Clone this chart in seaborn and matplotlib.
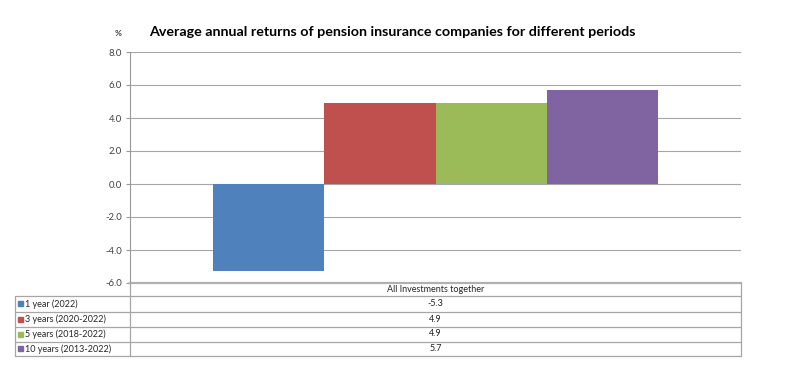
import matplotlib
matplotlib.use("Agg")
import matplotlib.pyplot as plt
import seaborn as sns
import pandas as pd
from matplotlib.lines import Line2D
from matplotlib.patches import Rectangle

# data
category = "All Investments together"
periods = ["1 year (2022)", "3 years (2020-2022)", "5 years (2018-2022)", "10 years (2013-2022)"]
returns = [-5.3, 4.9, 4.9, 5.7]
colors = ["#4F81BD", "#C0504D", "#9BBB59", "#8064A2"]
yticks = [-6.0, -4.0, -2.0, 0.0, 2.0, 4.0, 6.0, 8.0]

df = pd.DataFrame({"cat": [category] * len(periods), "period": periods, "value": returns})

sns.set_style("white")
plt.rcParams["font.family"] = ["Lato", "DejaVu Sans"]

W, H = 790, 390
fig = plt.figure(figsize=(W / 100, H / 100), dpi=100)

def fx(px):
    return px / W

def fy(py):
    return 1 - py / H

ax_l, ax_r, ax_t, ax_b = 130, 741, 52, 283
ax = fig.add_axes([fx(ax_l), fy(ax_b), fx(ax_r - ax_l), (ax_b - ax_t) / H])

sns.barplot(data=df, x="cat", y="value", hue="period", palette=colors,
            width=0.727, ax=ax, legend=False, saturation=1, edgecolor="none")

ax.set_ylim(-6, 8)
ax.set_yticks(yticks)
ax.set_yticklabels([f"{t:.1f}" for t in yticks], fontsize=6.8, color="#404040")
ax.tick_params(axis="y", length=3, width=0.8, color="#999999", pad=3, direction="out", left=True)
ax.set_xticks([])
ax.set_xlabel("")
ax.set_ylabel("")
ax.grid(axis="y", color="#a6a6a6", linewidth=0.8)
ax.set_axisbelow(True)
for s in ["top", "right"]:
    ax.spines[s].set_visible(False)
ax.spines["left"].set_color("#999999")
ax.spines["bottom"].set_color("#b0b0b0")
ax.spines["bottom"].set_linewidth(1.6)

# title and unit
fig.text(fx(392), fy(32), "Average annual returns of pension insurance companies for different periods",
         ha="center", va="center", fontsize=10.3, fontweight="bold", color="#000000")
fig.text(fx(118), fy(33), "%", ha="center", va="center", fontsize=6, fontweight="bold", color="#404040")

# data table below the chart
lc = "#a6a6a6"
def hline(x0, x1, y):
    fig.add_artist(Line2D([fx(x0), fx(x1)], [fy(y), fy(y)], color=lc, lw=0.9))

def vline(x, y0, y1):
    fig.add_artist(Line2D([fx(x), fx(x)], [fy(y0), fy(y1)], color=lc, lw=0.9))

tab_left = 15
row_edges = [296, 311.5, 326.5, 341.5, 356]
for y in row_edges:
    hline(tab_left, ax_r, y)
vline(tab_left, row_edges[0], row_edges[-1])
vline(ax_l, ax_b, row_edges[-1])
vline(ax_r, ax_b, row_edges[-1])

mid_x = (ax_l + ax_r) / 2
fig.text(fx(mid_x), fy((ax_b + row_edges[0]) / 2), category, ha="center", va="center",
         fontsize=6.5, color="#262626")
for i, (name, val, col) in enumerate(zip(periods, returns, colors)):
    yc = (row_edges[i] + row_edges[i + 1]) / 2
    fig.add_artist(Rectangle((fx(18), fy(yc + 2.5)), fx(5), 5 / H, color=col,
                             transform=fig.transFigure))
    fig.text(fx(25), fy(yc), name, ha="left", va="center", fontsize=6.5, color="#262626")
    fig.text(fx(mid_x), fy(yc), f"{val:.1f}", ha="center", va="center", fontsize=6.5, color="#262626")

fig.savefig("out.png", dpi=100, facecolor="white")
